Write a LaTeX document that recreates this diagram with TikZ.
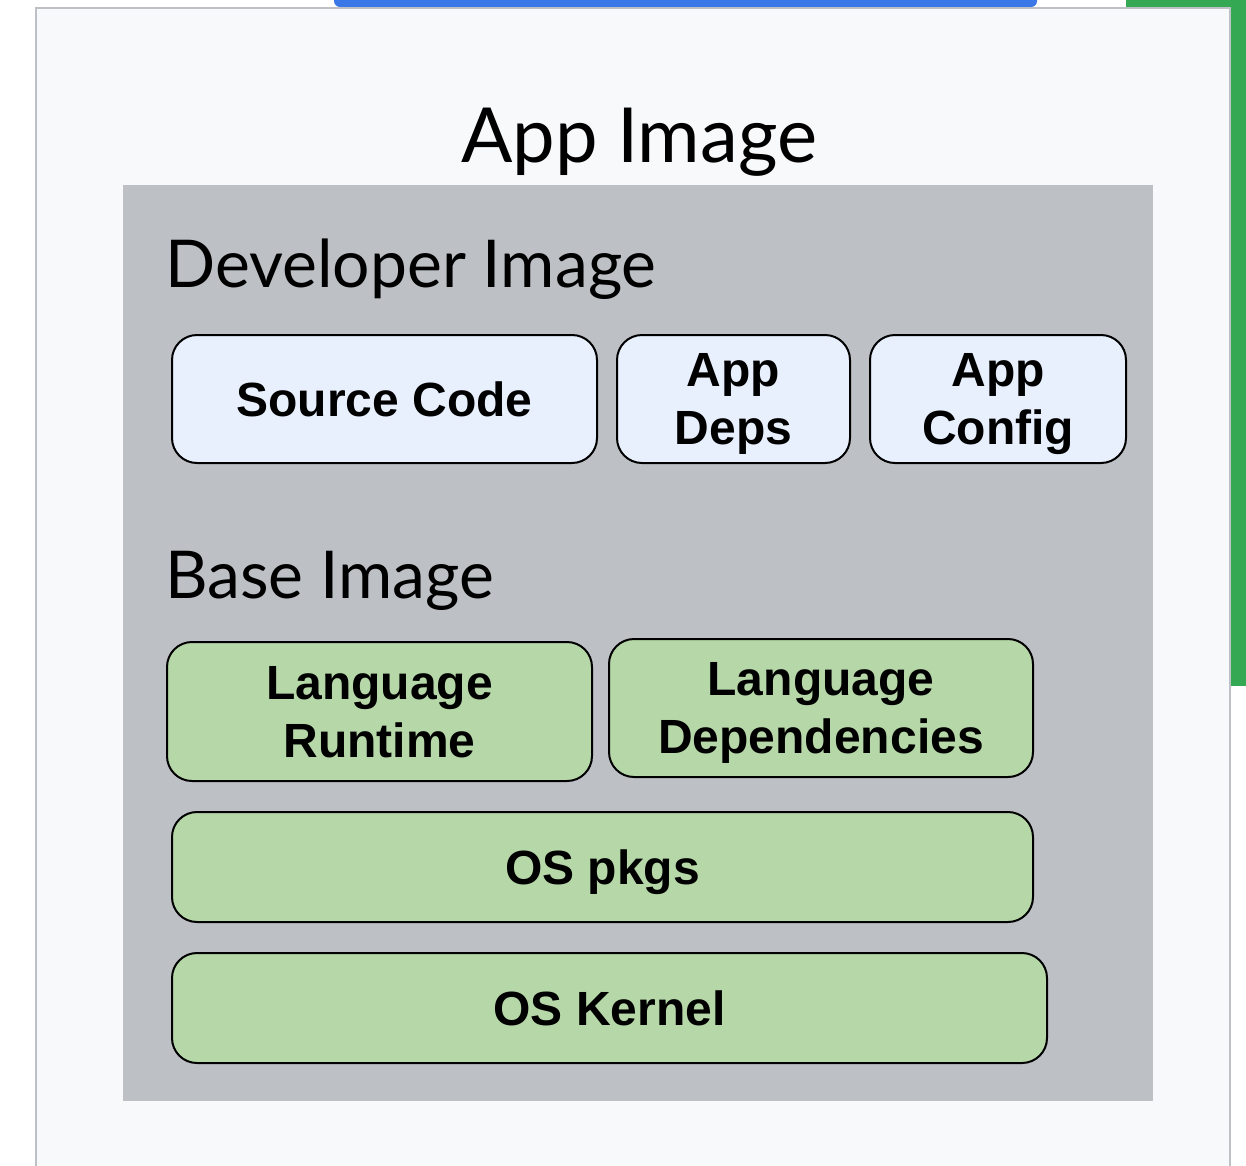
\documentclass[tikz,border=0pt]{standalone}
\usepackage{fontspec}
\setmainfont{Lato}
\newfontfamily\boxfont{Liberation Sans}
\definecolor{panelfill}{HTML}{F8F9FA}
\definecolor{panelline}{HTML}{BDC1C6}
\definecolor{innergray}{HTML}{BDC1C6}
\definecolor{bluebox}{HTML}{E8F0FE}
\definecolor{greenbox}{HTML}{B6D7A8}
\definecolor{gblue}{HTML}{3B78E7}
\definecolor{ggreen}{HTML}{34A853}
\begin{document}
\begin{tikzpicture}[x=1pt,y=-1pt,
  layerbox/.style={draw=black,line width=2pt,rounded corners=25pt,text depth=0pt,
    font=\boxfont\bfseries\fontsize{48}{58}\selectfont,align=center,inner sep=0pt},
  bluelayer/.style={layerbox,fill=bluebox},
  greenlayer/.style={layerbox,fill=greenbox},
  heading/.style={anchor=base west,inner sep=0pt,font=\fontsize{66}{70}\selectfont}]
\useasboundingbox (0,0) rectangle (1246,1165);
\fill[white] (0,0) rectangle (1246,1165);
% background bars
\fill[gblue,rounded corners=6pt] (334,-20) rectangle (1037,7);
\fill[ggreen] (1126,0) rectangle (1246,686);
% outer panel
\draw[fill=panelfill,draw=panelline,line width=2pt] (36,1175) -- (36,8) -- (1230,8) -- (1230,1175);
\node[anchor=base,inner sep=0pt,font=\fontsize{76}{80}\selectfont] (title) at (639,162) {App Image};
% inner gray
\fill[innergray] (123,185) rectangle (1153,1101);
\node[heading] (dev) at (165,287) {Developer Image};
\node[heading] (base) at (165,598) {Base Image};
% developer layers
\node[bluelayer,minimum width=425pt,minimum height=128pt] (src) at (384.5,399) {Source Code};
\node[bluelayer,minimum width=233pt,minimum height=128pt] (deps) at (733.5,399) {App\\Deps};
\node[bluelayer,minimum width=256pt,minimum height=128pt] (cfg) at (998,399) {App\\Config};
% base layers
\node[greenlayer,minimum width=425pt,minimum height=139pt] (rt) at (379.5,711.5) {Language\\Runtime};
\node[greenlayer,minimum width=424pt,minimum height=138pt] (ldeps) at (821,708) {Language\\Dependencies};
\node[greenlayer,minimum width=861pt,minimum height=110pt] (os) at (602.5,867) {OS pkgs};
\node[greenlayer,minimum width=875pt,minimum height=110pt] (kern) at (609.5,1008) {OS Kernel};
\end{tikzpicture}
\end{document}
